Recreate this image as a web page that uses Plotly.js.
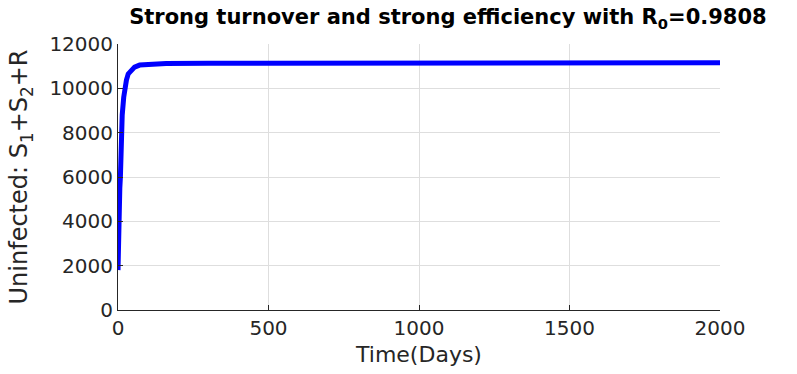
<!DOCTYPE html>
<html>
<head>
<meta charset="utf-8">
<script src="https://cdn.plot.ly/plotly-3.0.1.min.js"></script>
<style>html,body{margin:0;padding:0;background:#fff;}#chart{width:797px;height:374px;}</style>
</head>
<body>
<div id="chart"></div>
<script>
const days = [0, 0.5, 1, 2, 4, 6, 8, 11, 14, 19, 24, 28, 34, 44, 55, 72, 100, 160, 300, 500, 800, 1200, 1600, 2000];
const uninfected = [1800, 2600, 3500, 4300, 5000, 5500, 6000, 8100, 8800, 9600, 10100, 10370, 10650, 10830, 10960, 11050, 11090, 11120, 11130, 11135, 11140, 11145, 11148, 11150];

const xTicks = [0, 500, 1000, 1500, 2000];
const yTicks = [0, 2000, 4000, 6000, 8000, 10000, 12000];

const font = 'DejaVu Sans, sans-serif';
const axisColor = '#262626';

Plotly.newPlot('chart', [{
  x: days,
  y: uninfected,
  type: 'scatter',
  mode: 'lines',
  line: {color: '#0000ff', width: 5},
  hoverinfo: 'skip'
}], {
  width: 797,
  height: 374,
  margin: {l: 118, r: 77, t: 44, b: 64},
  paper_bgcolor: '#ffffff',
  plot_bgcolor: '#ffffff',
  showlegend: false,
  title: {
    text: '<b>Strong turnover and strong efficiency with R<sub>0</sub>=0.9808</b>',
    font: {family: font, size: 21, color: '#000000'},
    x: 0.562, xanchor: 'center',
    y: 0.955, yanchor: 'middle'
  },
  xaxis: {
    range: [0, 2000],
    tickvals: xTicks,
    ticktext: xTicks.map(String),
    showgrid: true,
    gridcolor: '#dedede',
    gridwidth: 1,
    zeroline: false,
    showline: true,
    linecolor: axisColor,
    linewidth: 1,
    mirror: false,
    ticks: 'inside',
    ticklen: 5,
    tickcolor: axisColor,
    tickfont: {family: font, size: 20, color: axisColor},
    title: {text: 'Time(Days)', font: {family: font, size: 22, color: axisColor}, standoff: 7}
  },
  yaxis: {
    range: [0, 12000],
    tickvals: yTicks,
    ticktext: yTicks.map(String),
    showgrid: true,
    gridcolor: '#dedede',
    gridwidth: 1,
    zeroline: false,
    showline: true,
    linecolor: axisColor,
    linewidth: 1,
    mirror: false,
    ticks: 'inside',
    ticklen: 5,
    tickcolor: axisColor,
    tickfont: {family: font, size: 20, color: axisColor},
    title: {text: 'Uninfected: S<sub>1</sub>+S<sub>2</sub>+R', font: {family: font, size: 24, color: axisColor}, standoff: 14}
  }
}, {staticPlot: true, displayModeBar: false});
</script>
</body>
</html>
